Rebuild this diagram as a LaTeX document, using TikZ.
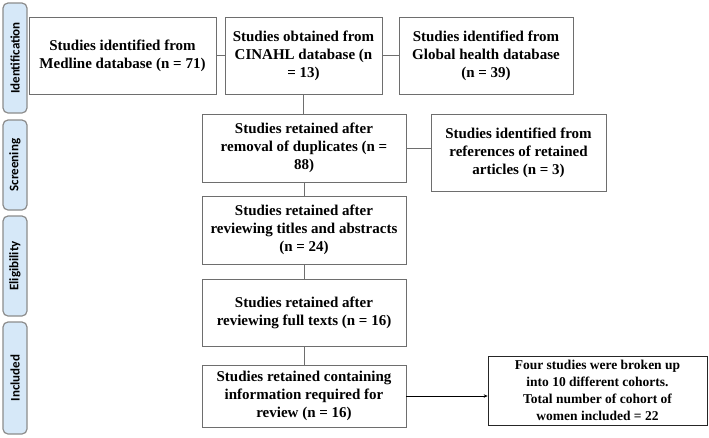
\documentclass[tikz,border=0pt]{standalone}
\usepackage{fontspec}
\setmainfont{Liberation Serif}[BoldFont={Liberation Serif Bold}]
\newfontfamily\sidefont{Carlito}[BoldFont={Carlito Bold}]
\usetikzlibrary{arrows.meta}
\definecolor{sideblue}{HTML}{D6E8F8}
\definecolor{sideedge}{HTML}{8C8C8C}
\definecolor{boxedge}{HTML}{6E6E6E}
\begin{document}
\begin{tikzpicture}[x=1pt,y=-1pt,
  box/.style={draw=boxedge,line width=0.9pt,align=center,inner sep=0pt,
    font=\fontsize{15}{18}\selectfont\bfseries},
  sidelbl/.style={draw=sideedge,fill=sideblue,line width=1.2pt,rounded corners=5pt,
    rotate=90,inner sep=0pt,minimum height=24pt,font=\sidefont\fontsize{13}{15}\selectfont\bfseries},
  link/.style={draw=boxedge,line width=0.9pt},
  arr/.style={draw=black,line width=0.6pt,-{Stealth[length=4pt,width=3.5pt]}}]
\useasboundingbox (0,0) rectangle (709,437);
% side labels
\node[sidelbl,minimum width=110pt] (sid) at (15,58) {Identification};
\node[sidelbl,minimum width=90pt] (sscr) at (15,165) {Screening};
\node[sidelbl,minimum width=100pt] (selig) at (15,266) {Eligibility};
\node[sidelbl,minimum width=112pt] (sinc) at (15,378) {Included};
% boxes
\node[box,minimum width=187pt,minimum height=77pt] (med) at (122.5,55.5)
  {Studies identified from\\Medline database (n = 71)};
\node[box,minimum width=157pt,minimum height=77pt] (cin) at (303.5,55.5)
  {Studies obtained from\\CINAHL database (n\\= 13)};
\node[box,minimum width=174pt,minimum height=77pt] (glo) at (486,55.5)
  {Studies identified from\\Global health database\\(n = 39)};
\node[box,minimum width=204pt,minimum height=68pt] (dup) at (304,148)
  {Studies retained after\\removal of duplicates (n =\\88)};
\node[box,minimum width=175pt,minimum height=77pt] (ref) at (518.5,152.5)
  {Studies identified from\\references of retained\\articles (n = 3)};
\node[box,minimum width=204pt,minimum height=68pt] (tit) at (304,230)
  {Studies retained after\\reviewing titles and abstracts\\(n = 24)};
\node[box,minimum width=204pt,minimum height=67pt] (ful) at (304,312.5)
  {Studies retained after\\reviewing full texts (n = 16)};
\node[box,minimum width=204pt,minimum height=62pt] (con) at (304,396)
  {Studies retained containing\\information required for\\review (n = 16)};
\node[box,draw=black!85,line width=0.7pt,minimum width=219pt,minimum height=69pt,
  font=\fontsize{13.5}{17}\selectfont\bfseries] (fou) at (597.5,390.5)
  {Four studies were broken up\\into 10 different cohorts.\\Total number of cohort of\\women included = 22};
% connectors
\draw[link] (med.east) -- (cin.west);
\draw[link] (cin.east) -- (glo.west);
\draw[link] (cin.south) -- (cin.south |- dup.north);
\draw[link] (dup.east) -- (dup.east -| ref.west);
\draw[link] (dup.south) -- (tit.north);
\draw[link] (tit.south) -- (ful.north);
\draw[link] (ful.south) -- (con.north);
\draw[arr] (con.east) -- (con.east -| fou.west);
\end{tikzpicture}
\end{document}
